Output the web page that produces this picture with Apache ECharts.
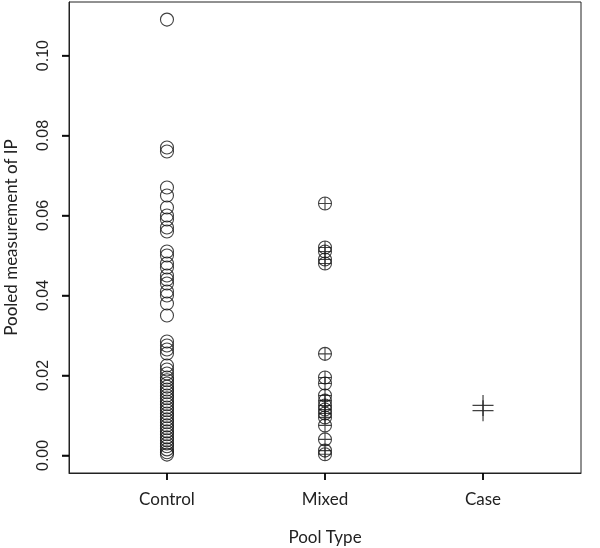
<!DOCTYPE html>
<html>
<head>
<meta charset="utf-8">
<script src="https://cdn.jsdelivr.net/npm/echarts@6/dist/echarts.min.js"></script>
<style>html,body{margin:0;padding:0;background:#fff;}#c{width:600px;height:548px;}</style>
</head>
<body>
<div id="c"></div>
<script>
const categories = ['Control', 'Mixed', 'Case'];
const xTicks = [1, 2, 3];
const yTicks = [0, 0.02, 0.04, 0.06, 0.08, 0.10];
const controlValues = [0.109, 0.077, 0.076, 0.067, 0.065, 0.062, 0.060, 0.059, 0.057, 0.056,
  0.051, 0.050, 0.048, 0.047, 0.045, 0.044, 0.043, 0.041, 0.040, 0.038, 0.035,
  0.0285, 0.0275, 0.0265, 0.0255,
  0.0225, 0.0215, 0.0205, 0.0195, 0.0188, 0.018, 0.0172, 0.0165, 0.0158, 0.015, 0.0143,
  0.0135, 0.0128, 0.012, 0.0113, 0.0105, 0.0098, 0.009, 0.0083, 0.0075, 0.0068, 0.006,
  0.0053, 0.0045, 0.0038, 0.003, 0.0023, 0.0015, 0.0008, 0.0002];
const mixedValues = [0.063, 0.052, 0.051, 0.049, 0.048, 0.0254, 0.0195, 0.018, 0.015, 0.0137,
  0.0125, 0.0115, 0.0105, 0.0095, 0.0075, 0.004, 0.0012, 0.0003];
const caseValues = [0.0125, 0.0112];

const toPts = (vals, idx) => vals.map(v => [idx + 1, v]);
const circlePlus = 'path://M0,10 A10,10 0 1,1 20,10 A10,10 0 1,1 0,10 Z M10,0 L10,20 M0,10 L20,10';
const plus = 'path://M10,0 L10,20 M0,10 L20,10';
const textCol = '#222';
const X_MIN = 0.38, X_MAX = 3.62, Y_MIN = -0.0044, Y_MAX = 0.1134;

const chart = echarts.init(document.getElementById('c'));
chart.setOption({
  animation: false,
  grid: { left: 69, right: 19, top: 2, bottom: 75, show: true, borderColor: '#222', borderWidth: 1,
    backgroundColor: 'transparent', outerBoundsMode: 'none', containLabel: false },
  xAxis: {
    type: 'value', min: X_MIN, max: X_MAX,
    name: 'Pool Type', nameLocation: 'middle', nameGap: 56,
    nameTextStyle: { fontFamily: 'Lato', fontSize: 17, color: textCol },
    axisLine: { show: true, onZero: false, lineStyle: { color: '#222', width: 1 } },
    splitLine: { show: false },
    axisTick: { show: true, length: 7, inside: false, customValues: xTicks, lineStyle: { color: '#000', width: 1.5 } },
    axisLabel: { customValues: xTicks, formatter: v => categories[Math.round(v) - 1], fontFamily: 'Lato', fontSize: 17, color: textCol, margin: 18 }
  },
  yAxis: {
    type: 'value', min: Y_MIN, max: Y_MAX,
    name: 'Pooled measurement of IP', nameLocation: 'middle', nameGap: 49, nameRotate: 90,
    nameTextStyle: { fontFamily: 'Lato', fontSize: 17, color: textCol },
    axisLine: { show: true, onZero: false, lineStyle: { color: '#222', width: 1 } },
    splitLine: { show: false },
    axisTick: { show: true, length: 7, inside: false, customValues: yTicks, lineStyle: { color: '#000', width: 1.5 } },
    axisLabel: { customValues: yTicks, rotate: 90, formatter: v => v.toFixed(2), fontFamily: 'Liberation Sans', fontSize: 16, color: textCol, margin: 17 }
  },
  series: [
    { type: 'scatter', data: toPts(controlValues, 0), symbol: 'circle', symbolSize: 13,
      itemStyle: { color: 'transparent', borderColor: '#111', borderWidth: 1.1 } },
    { type: 'scatter', data: toPts(mixedValues, 1), symbol: circlePlus, symbolSize: 13,
      itemStyle: { color: 'transparent', borderColor: '#111', borderWidth: 1.1 } },
    { type: 'scatter', data: toPts(caseValues, 2), symbol: plus, symbolSize: 21,
      itemStyle: { color: 'transparent', borderColor: '#111', borderWidth: 1.2 } },
    // outward tick marks on the axes, placed by the axis scales
    { type: 'scatter', clip: false, silent: true, symbol: 'rect', symbolSize: [1.5, 7], symbolOffset: [0, 3.5],
      data: xTicks.map(v => [v, Y_MIN]), itemStyle: { color: '#000' }, z: 10 },
    { type: 'scatter', clip: false, silent: true, symbol: 'rect', symbolSize: [7, 1.5], symbolOffset: [-3.5, 0],
      data: yTicks.map(v => [X_MIN, v]), itemStyle: { color: '#000' }, z: 10 }
  ]
});
</script>
</body>
</html>
